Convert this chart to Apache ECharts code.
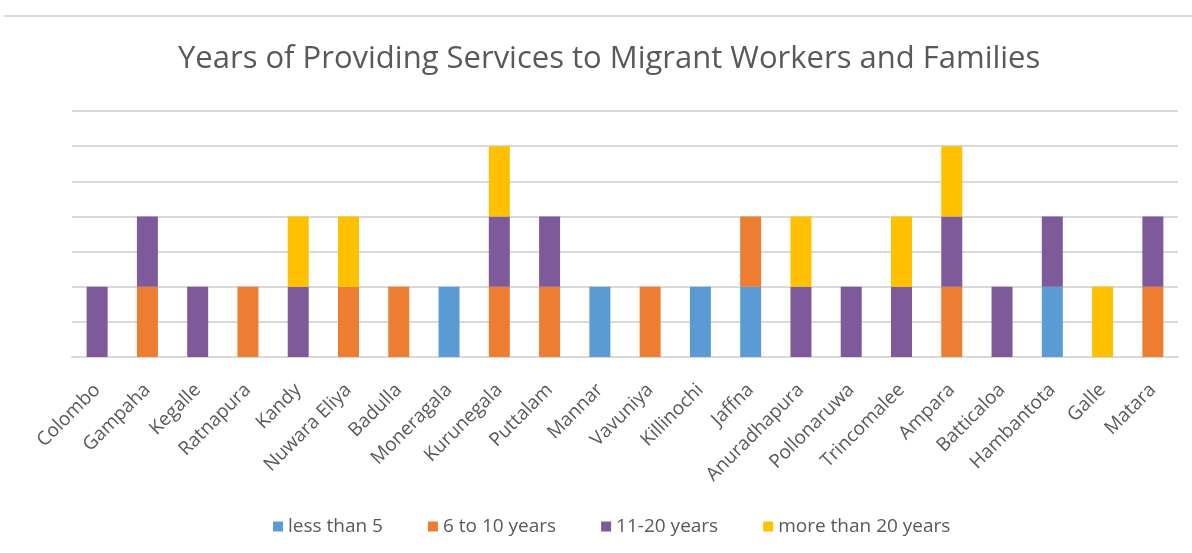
<!DOCTYPE html>
<html lang="en">
<head>
    <meta charset="UTF-8">
    <title>Years of Providing Services</title>
    <script src="https://cdn.jsdelivr.net/npm/echarts@6/dist/echarts.min.js"></script>
    <style>
        body { margin: 0; background: #fff; }
    </style>
</head>
<body>
    <div id="chart" style="width: 1192px; height: 553px;"></div>
</body>
</html>
<script>
    // districts
    var districts = ['Colombo', 'Gampaha', 'Kegalle', 'Ratnapura', 'Kandy', 'Nuwara Eliya', 'Badulla',
        'Moneragala', 'Kurunegala', 'Puttalam', 'Mannar', 'Vavuniya', 'Killinochi', 'Jaffna',
        'Anuradhapura', 'Pollonaruwa', 'Trincomalee', 'Ampara', 'Batticaloa', 'Hambantota', 'Galle', 'Matara'];

    // number of organisations in each band
    var lessThan5 = [0, 0, 0, 0, 0, 0, 0, 1, 0, 0, 1, 0, 1, 1, 0, 0, 0, 0, 0, 1, 0, 0];
    var sixTo10   = [0, 1, 0, 1, 0, 1, 1, 0, 1, 1, 0, 1, 0, 1, 0, 0, 0, 1, 0, 0, 0, 1];
    var elevenTo20 = [1, 1, 1, 0, 1, 0, 0, 0, 1, 1, 0, 0, 0, 0, 1, 1, 1, 1, 1, 1, 0, 1];
    var over20    = [0, 0, 0, 0, 1, 1, 0, 0, 1, 0, 0, 0, 0, 0, 1, 0, 1, 1, 0, 0, 1, 0];

    var font = '"Open Sans", sans-serif';
    function clean(arr) {
        return arr.map(function (v) { return v === 0 ? '-' : v; });
    }

    var chart = echarts.init(document.getElementById('chart'));
    chart.setOption({
        animation: false,
        color: ['#5B9BD5', '#ED7D31', '#7F5A9A', '#FFC000'],
        title: {
            text: 'Years of Providing Services to Migrant Workers and Families',
            left: 173,
            top: 39,
            textStyle: { fontFamily: font, fontSize: 31, fontWeight: 'normal', color: '#595959' }
        },
        legend: {
            bottom: 12,
            left: 268,
            itemWidth: 10,
            itemHeight: 10,
            itemGap: 45,
            icon: 'rect',
            textStyle: { fontFamily: font, fontSize: 19, color: '#595959' },
            data: ['less than 5', '6 to 10 years', '11-20 years', 'more than 20 years']
        },
        graphic: [{
            type: 'line',
            shape: { x1: 4, y1: 16, x2: 1192, y2: 16 },
            style: { stroke: '#d9d9d9', lineWidth: 2 }
        }],
        grid: { left: 72, right: 14, top: 111, bottom: 196 },
        xAxis: {
            type: 'category',
            data: districts,
            axisTick: { show: false },
            axisLine: { lineStyle: { color: '#d9d9d9', width: 2 } },
            axisLabel: {
                rotate: 45,
                interval: 0,
                margin: 30,
                fontFamily: font,
                fontSize: 19,
                color: '#595959'
            }
        },
        yAxis: {
            type: 'value',
            min: 0,
            max: 3.5,
            interval: 0.5,
            axisLabel: { show: false },
            axisLine: { show: false },
            axisTick: { show: false },
            splitLine: { lineStyle: { color: '#d9d9d9', width: 2 } }
        },
        series: [
            { name: 'less than 5', type: 'bar', stack: 'a', barWidth: 21, data: clean(lessThan5) },
            { name: '6 to 10 years', type: 'bar', stack: 'a', barWidth: 21, data: clean(sixTo10) },
            { name: '11-20 years', type: 'bar', stack: 'a', barWidth: 21, data: clean(elevenTo20) },
            { name: 'more than 20 years', type: 'bar', stack: 'a', barWidth: 21, data: clean(over20) }
        ]
    });
    window.onresize = chart.resize;
</script>
